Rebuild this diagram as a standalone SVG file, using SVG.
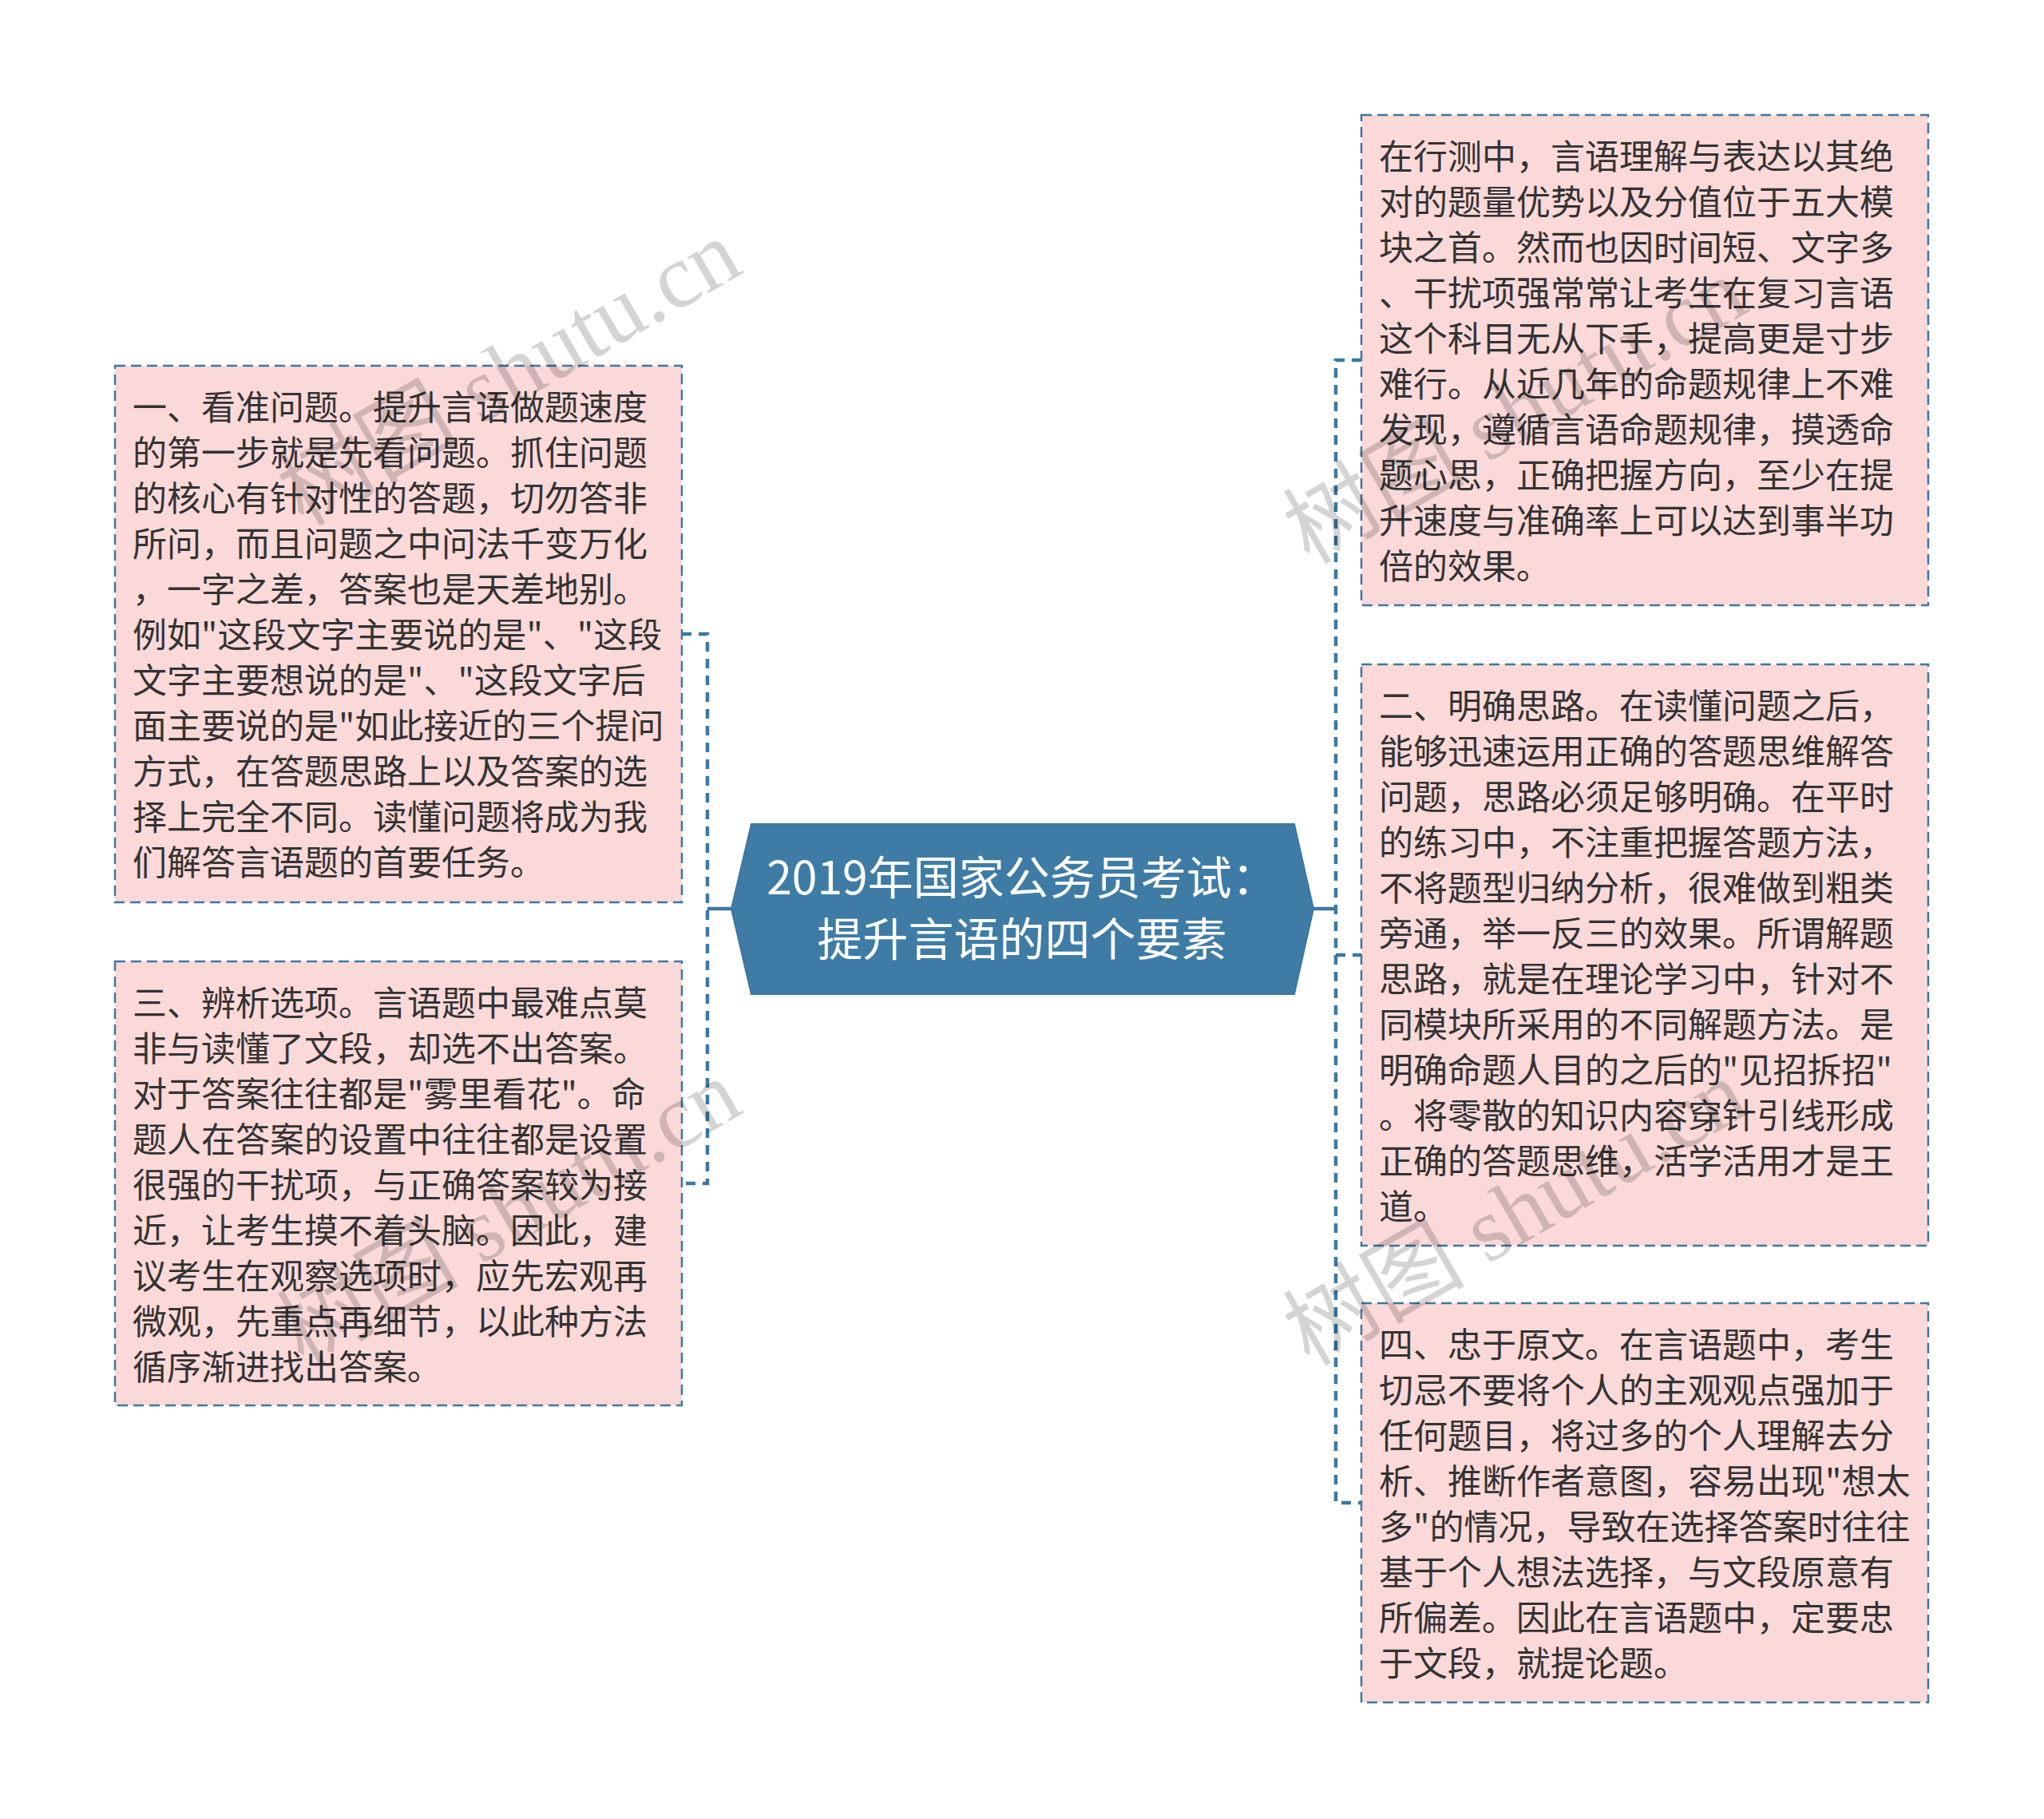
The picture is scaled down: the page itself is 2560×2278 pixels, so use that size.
<svg xmlns="http://www.w3.org/2000/svg" width="2560" height="2278" viewBox="0 0 2560 2278">
<style>
.box{fill:#fbd9d9;stroke:#3d78a2;stroke-width:2.5;stroke-dasharray:13 7}
.t{font-family:"Noto Sans CJK SC","Noto Sans",sans-serif;font-size:43px;fill:#333333}
.ct{font-family:"Noto Sans CJK SC","Noto Sans",sans-serif;font-size:57px;fill:#ffffff;text-anchor:middle}
.conn{fill:none;stroke:#3d78a2;stroke-width:4.5;stroke-dasharray:12 9}
.solid{fill:none;stroke:#3d78a2;stroke-width:4.5}
.wm{font-family:"Liberation Serif","Noto Sans CJK SC",serif;font-size:114px;fill:#000000;fill-opacity:0.17}
</style>
<rect width="2560" height="2278" fill="#ffffff"/>
<g id="connectors">
<path class="conn" d="M854,794 H886 V1482 H854"/>
<path class="solid" d="M886,1138 H916"/>
<path class="conn" d="M1705,451 H1673 V1882 H1705"/>
<path class="conn" d="M1673,1196 H1705"/>
<path class="solid" d="M1645,1138 H1673"/>
</g>
<g id="node-center">
<polygon points="941,1032 1621,1032 1645,1138 1621,1245 941,1245 916,1138" fill="#3e7ca6" stroke="#3b76a0" stroke-width="2"/>
<text class="ct"><tspan x="1280" y="1120">2019年国家公务员考试：</tspan><tspan x="1280" y="1197">提升言语的四个要素</tspan></text>
</g>
<g id="node-left1">
<rect class="box" x="144" y="458" width="710" height="672"/>
<text class="t">
<tspan x="166" y="526">一、看准问题。提升言语做题速度</tspan>
<tspan x="166" y="583">的第一步就是先看问题。抓住问题</tspan>
<tspan x="166" y="640">的核心有针对性的答题，切勿答非</tspan>
<tspan x="166" y="697">所问，而且问题之中问法千变万化</tspan>
<tspan x="166" y="754">，一字之差，答案也是天差地别。</tspan>
<tspan x="166" y="811">例如"这段文字主要说的是"、"这段</tspan>
<tspan x="166" y="868">文字主要想说的是"、"这段文字后</tspan>
<tspan x="166" y="925">面主要说的是"如此接近的三个提问</tspan>
<tspan x="166" y="982">方式，在答题思路上以及答案的选</tspan>
<tspan x="166" y="1039">择上完全不同。读懂问题将成为我</tspan>
<tspan x="166" y="1096">们解答言语题的首要任务。</tspan>
</text>
</g>
<g id="node-left2">
<rect class="box" x="144" y="1204" width="710" height="556"/>
<text class="t">
<tspan x="166" y="1272">三、辨析选项。言语题中最难点莫</tspan>
<tspan x="166" y="1329">非与读懂了文段，却选不出答案。</tspan>
<tspan x="166" y="1386">对于答案往往都是"雾里看花"。命</tspan>
<tspan x="166" y="1443">题人在答案的设置中往往都是设置</tspan>
<tspan x="166" y="1500">很强的干扰项，与正确答案较为接</tspan>
<tspan x="166" y="1557">近，让考生摸不着头脑。因此，建</tspan>
<tspan x="166" y="1614">议考生在观察选项时，应先宏观再</tspan>
<tspan x="166" y="1671">微观，先重点再细节，以此种方法</tspan>
<tspan x="166" y="1728">循序渐进找出答案。</tspan>
</text>
</g>
<g id="node-right1">
<rect class="box" x="1705" y="144" width="710" height="614"/>
<text class="t">
<tspan x="1727" y="212">在行测中，言语理解与表达以其绝</tspan>
<tspan x="1727" y="269">对的题量优势以及分值位于五大模</tspan>
<tspan x="1727" y="326">块之首。然而也因时间短、文字多</tspan>
<tspan x="1727" y="383">、干扰项强常常让考生在复习言语</tspan>
<tspan x="1727" y="440">这个科目无从下手，提高更是寸步</tspan>
<tspan x="1727" y="497">难行。从近几年的命题规律上不难</tspan>
<tspan x="1727" y="554">发现，遵循言语命题规律，摸透命</tspan>
<tspan x="1727" y="611">题心思，正确把握方向，至少在提</tspan>
<tspan x="1727" y="668">升速度与准确率上可以达到事半功</tspan>
<tspan x="1727" y="725">倍的效果。</tspan>
</text>
</g>
<g id="node-right2">
<rect class="box" x="1705" y="832" width="710" height="728"/>
<text class="t">
<tspan x="1727" y="900">二、明确思路。在读懂问题之后，</tspan>
<tspan x="1727" y="957">能够迅速运用正确的答题思维解答</tspan>
<tspan x="1727" y="1014">问题，思路必须足够明确。在平时</tspan>
<tspan x="1727" y="1071">的练习中，不注重把握答题方法，</tspan>
<tspan x="1727" y="1128">不将题型归纳分析，很难做到粗类</tspan>
<tspan x="1727" y="1185">旁通，举一反三的效果。所谓解题</tspan>
<tspan x="1727" y="1242">思路，就是在理论学习中，针对不</tspan>
<tspan x="1727" y="1299">同模块所采用的不同解题方法。是</tspan>
<tspan x="1727" y="1356">明确命题人目的之后的"见招拆招"</tspan>
<tspan x="1727" y="1413">。将零散的知识内容穿针引线形成</tspan>
<tspan x="1727" y="1470">正确的答题思维，活学活用才是王</tspan>
<tspan x="1727" y="1527">道。</tspan>
</text>
</g>
<g id="node-right3">
<rect class="box" x="1705" y="1632" width="710" height="500"/>
<text class="t">
<tspan x="1727" y="1700">四、忠于原文。在言语题中，考生</tspan>
<tspan x="1727" y="1757">切忌不要将个人的主观观点强加于</tspan>
<tspan x="1727" y="1814">任何题目，将过多的个人理解去分</tspan>
<tspan x="1727" y="1871">析、推断作者意图，容易出现"想太</tspan>
<tspan x="1727" y="1928">多"的情况，导致在选择答案时往往</tspan>
<tspan x="1727" y="1985">基于个人想法选择，与文段原意有</tspan>
<tspan x="1727" y="2042">所偏差。因此在言语题中，定要忠</tspan>
<tspan x="1727" y="2099">于文段，就提论题。</tspan>
</text>
</g>
<g id="watermarks">
<text class="wm" x="380" y="660" transform="rotate(-30 380 660)">树图 shutu.cn</text>
<text class="wm" x="1640" y="708" transform="rotate(-30 1640 708)">树图 shutu.cn</text>
<text class="wm" x="380" y="1712" transform="rotate(-30 380 1712)">树图 shutu.cn</text>
<text class="wm" x="1640" y="1712" transform="rotate(-30 1640 1712)">树图 shutu.cn</text>
</g>
</svg>
